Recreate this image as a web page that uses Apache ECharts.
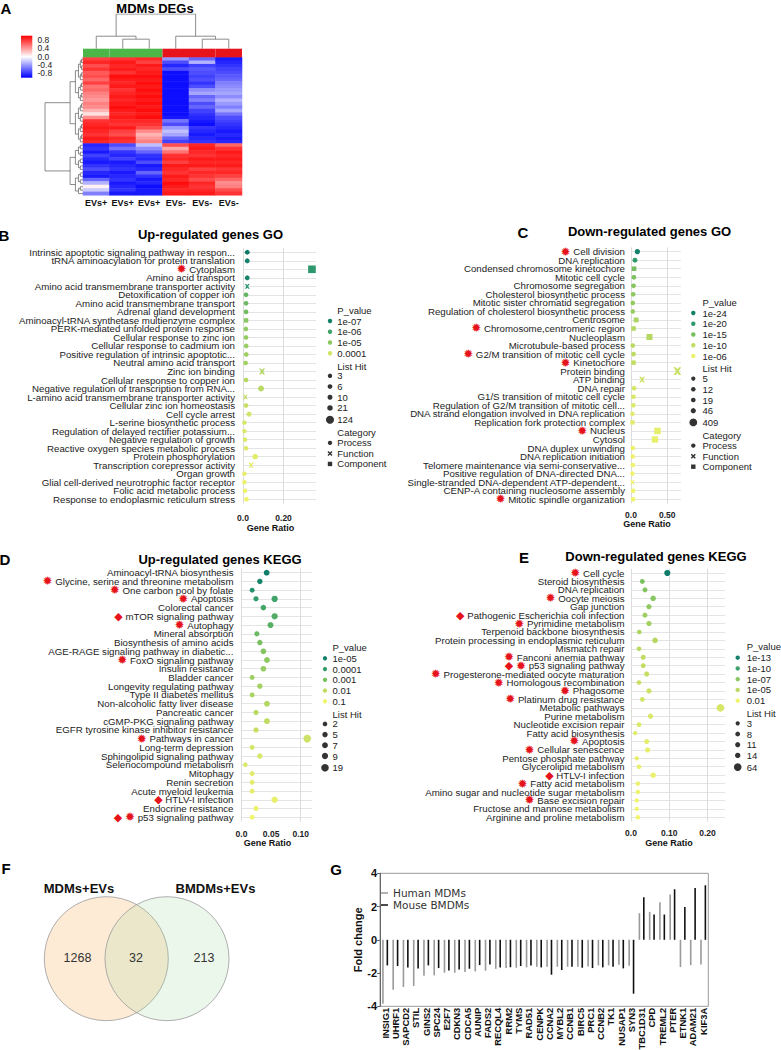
<!DOCTYPE html>
<html><head><meta charset="utf-8">
<script src="https://cdn.jsdelivr.net/npm/echarts@6/dist/echarts.min.js"></script>
<style>html,body{margin:0;padding:0;background:#fff}#c{width:781px;height:1050px}</style>
</head><body><div id="c"></div>
<script>
// ===== Panel A: heatmap data (40 gene rows x 6 samples) =====
const heatColLabels = ['EVs+','EVs+','EVs+','EVs-','EVs-','EVs-'];
const heatGroups = ['EVs+','EVs+','EVs+','EVs-','EVs-','EVs-'];
const heatS1 = [0.75,0.85,0.7,0.8,0.65,0.7,0.6,0.75,0.55,0.6,0.5,0.45,0.4,0.5,0.45,0.3,0.12,0.45,0.8,0.85,0.9,0.85,0.8,0.9,0.85,
  -0.85,-0.8,-0.9,-0.75,-0.85,-0.9,-0.8,-0.7,-0.85,-0.9,-0.6,-0.3,0.05,-0.2,-0.5];
const heatS2 = [0.8,0.9,0.85,0.9,0.8,0.95,0.9,0.85,0.9,0.8,0.85,0.9,0.85,0.9,0.95,0.9,0.85,0.9,0.85,0.8,0.9,0.75,0.7,0.85,0.8,
  -0.7,-0.55,-0.8,-0.85,-0.75,-0.9,-0.85,-0.8,-0.9,-0.85,-0.8,-0.9,-0.85,-0.8,-0.9];
const heatS3 = [0.85,0.75,0.9,0.85,0.9,0.95,0.9,0.95,0.9,0.95,0.9,0.95,0.9,0.95,0.9,0.95,0.9,0.95,0.85,0.8,0.7,0.45,0.3,0.4,0.5,
  -0.25,-0.45,-0.6,-0.8,-0.85,-0.7,-0.9,-0.85,-0.6,-0.8,-0.9,-0.85,-0.95,-0.9,-0.9];
const heatS4 = [-0.4,-0.7,-0.85,-0.7,-0.95,-0.95,-0.95,-0.95,-0.95,-0.95,-0.95,-0.95,-0.95,-0.95,-0.95,-0.95,-0.95,-0.9,-0.55,-0.7,-0.4,-0.25,-0.35,-0.6,-0.75,
  0.7,0.35,0.55,0.8,0.85,0.75,0.9,0.85,0.8,0.9,0.85,0.95,0.9,0.85,0.9];
const heatS5 = [-0.6,-0.3,-0.75,-0.65,-0.7,-0.75,-0.7,-0.8,-0.7,-0.45,-0.35,-0.6,-0.5,-0.7,-0.6,-0.75,-0.8,-0.85,-0.9,-0.95,-0.8,-0.85,-0.9,-0.85,-0.8,
  0.85,0.9,0.85,0.8,0.9,0.85,0.9,0.75,0.85,0.8,0.7,0.85,0.8,0.85,0.9];
const heatS6 = [-0.9,-0.85,-0.8,-0.75,-0.7,-0.65,-0.6,-0.5,-0.45,-0.4,-0.35,-0.45,-0.3,-0.4,-0.5,-0.35,-0.55,-0.7,-0.75,-0.8,-0.85,-0.9,-0.85,-0.9,-0.85,
  0.6,0.8,0.9,0.85,0.9,0.85,0.9,0.8,0.85,0.75,0.6,0.45,0.5,0.7,0.8];
const heatLegendTicks = [0.8,0.4,0.0,-0.4,-0.8];
const colDendroMerge = [[-2,-3],[-1,1],[-5,-6],[-4,3],[2,4]];
const colDendroHeight = [0.275,0.36,0.275,0.36,1.0];
const rowClusterSplit = 25;
const rowDendroHeights = [1.0,0.34,0.2,0.12,0.07,0.04,0.02];

// ===== Panel B: Up-regulated genes GO =====
const goUpNames = ['Intrinsic apoptotic signaling pathway in respon...','tRNA aminoacylation for protein translation','Cytoplasm','Amino acid transport','Amino acid transmembrane transporter activity','Detoxification of copper ion','Amino acid transmembrane transport','Adrenal gland development','Aminoacyl-tRNA synthetase multienzyme complex','PERK-mediated unfolded protein response','Cellular response to zinc ion','Cellular response to cadmium ion','Positive regulation of intrinsic apoptotic...','Neutral amino acid transport','Zinc ion binding','Cellular response to copper ion','Negative regulation of transcription from RNA...','L-amino acid transmembrane transporter activity','Cellular zinc ion homeostasis','Cell cycle arrest','L-serine biosynthetic process','Regulation of delayed rectifier potassium...','Negative regulation of growth','Reactive oxygen species metabolic process','Protein phosphorylation','Transcription corepressor activity','Organ growth','Glial cell-derived neurotrophic factor receptor','Folic acid metabolic process','Response to endoplasmic reticulum stress'];
const goUpRatio = [0.021,0.021,0.34,0.021,0.021,0.015,0.015,0.015,0.015,0.014,0.015,0.016,0.016,0.013,0.094,0.015,0.089,0.012,0.015,0.03,0.007,0.007,0.01,0.015,0.06,0.04,0.007,0.007,0.01,0.017];
const goUpLogP = [7.2,7.0,6.3,6.9,6.5,5.5,5.4,5.3,5.0,4.9,4.85,4.8,4.75,4.7,4.5,4.45,4.4,4.3,4.2,4.0,3.9,3.85,3.8,3.75,3.7,3.65,3.6,3.5,3.45,3.4];
const goUpHits = [8,8,124,8,8,5,5,5,5,5,5,5,5,4,34,5,32,4,5,11,3,3,4,5,22,15,3,3,4,6];
const goUpCat = ['P','P','C','P','F','P','P','P','C','P','P','P','P','P','F','P','P','F','P','P','P','P','P','P','P','F','P','P','P','P'];
const goUpStars = ['Cytoplasm'];
const goUpPLegend = [7,6,5,4];
const goUpPLabels = ['1e-07','1e-06','1e-05','0.0001'];
const goUpHitLegend = [3,6,10,21,124];

// ===== Panel C: Down-regulated genes GO =====
const goDownNames = ['Cell division','DNA replication','Condensed chromosome kinetochore','Mitotic cell cycle','Chromosome segregation','Cholesterol biosynthetic process','Mitotic sister chromatid segregation','Regulation of cholesterol biosynthetic process','Centrosome','Chromosome,centromeric region','Nucleoplasm','Microtubule-based process','G2/M transition of mitotic cell cycle','Kinetochore','Protein binding','ATP binding','DNA repair','G1/S transition of mitotic cell cycle','Regulation of G2/M transition of mitotic cell...','DNA strand elongation involved in DNA replication','Replication fork protection complex','Nucleus','Cytosol','DNA duplex unwinding','DNA replication initiation','Telomere maintenance via semi-conservative...','Positive regulation of DNA-directed DNA...','Single-stranded DNA-dependent ATP-dependent...','CENP-A containing nucleosome assembly','Mitotic spindle organization'];
const goDownRatio = [0.088,0.055,0.042,0.04,0.035,0.03,0.025,0.025,0.07,0.035,0.255,0.025,0.035,0.035,0.64,0.153,0.042,0.035,0.032,0.02,0.02,0.365,0.33,0.025,0.025,0.025,0.02,0.02,0.03,0.03];
const goDownLogP = [24,20,15,14.5,14,13.5,13,12.8,11.5,11,10.8,10.5,10.2,10,9.5,9,8,7.8,7.5,7.2,7,6.5,6.3,6,5.9,5.8,5.7,5.6,5.5,5.4];
const goDownHits = [56,35,27,26,22,19,16,16,45,22,163,16,22,22,409,98,27,22,20,14,14,234,211,16,16,16,14,14,19,19];
const goDownCat = ['P','P','C','P','P','P','P','P','C','C','C','P','P','C','F','F','P','P','P','P','C','C','C','P','P','P','P','F','P','P'];
const goDownStars = ['Cell division','Chromosome,centromeric region','G2/M transition of mitotic cell cycle','Kinetochore','Nucleus','Mitotic spindle organization'];
const goDownPLegend = [24,20,15,10,6];
const goDownPLabels = ['1e-24','1e-20','1e-15','1e-10','1e-06'];
const goDownHitLegend = [5,12,19,46,409];

// ===== Panel D: Up-regulated genes KEGG =====
const keggUpNames = ['Aminoacyl-tRNA biosynthesis','Glycine, serine and threonine metabolism','One carbon pool by folate','Apoptosis','Apoptosis','Colorectal cancer','mTOR signaling pathway','Autophagy','Mineral absorption','Biosynthesis of amino acids','AGE-RAGE signaling pathway in diabetic...','FoxO signaling pathway','Insulin resistance','Bladder cancer','Longevity regulating pathway','Type II diabetes mellitus','Non-alcoholic fatty liver disease','Pancreatic cancer','cGMP-PKG signaling pathway','EGFR tyrosine kinase inhibitor resistance','Pathways in cancer','Long-term depression','Sphingolipid signaling pathway','Selenocompound metabolism','Mitophagy','Renin secretion','Acute myeloid leukemia','HTLV-I infection','Endocrine resistance','p53 signaling pathway'];
const keggUpRatio = [0.0425,0.031,0.018,0.0245,0.056,0.037,0.056,0.049,0.026,0.031,0.037,0.043,0.037,0.018,0.031,0.018,0.043,0.0245,0.043,0.0245,0.111,0.018,0.031,0.0065,0.018,0.018,0.018,0.056,0.0245,0.018];
const keggUpLogP = [5.1,4.8,4.4,4.1,3.9,3.8,3.6,3.5,3.2,3.0,2.85,2.7,2.6,2.5,2.4,2.35,2.2,2.1,2.0,1.9,1.75,1.65,1.55,1.45,1.35,1.3,1.25,1.2,1.1,1.0];
const keggUpHits = [7,5,3,4,10,6,10,8,4,5,6,7,6,3,5,3,7,4,7,4,19,3,5,2,3,3,3,10,4,3];
const keggUpStars = ['Glycine, serine and threonine metabolism','One carbon pool by folate','Apoptosis','Autophagy','FoxO signaling pathway','Pathways in cancer','p53 signaling pathway'];
const keggUpDiamonds = ['mTOR signaling pathway','HTLV-I infection','p53 signaling pathway'];
const keggUpPLegend = [5,4,3,2,1];
const keggUpPLabels = ['1e-05','0.0001','0.001','0.01','0.1'];
const keggUpHitLegend = [2,5,7,9,19];

// ===== Panel E: Down-regulated genes KEGG =====
const keggDownNames = ['Cell cycle','Steroid biosynthesis','DNA replication','Oocyte meiosis','Gap junction','Pathogenic Escherichia coli infection','Pyrimidine metabolism','Terpenoid backbone biosynthesis','Protein processing in endoplasmic reticulum','Mismatch repair','Fanconi anemia pathway','p53 signaling pathway','Progesterone-mediated oocyte maturation','Homologous recombination','Phagosome','Platinum drug resistance','Metabolic pathways','Purine metabolism','Nucleotide excision repair','Fatty acid biosynthesis','Apoptosis','Cellular senescence','Pentose phosphate pathway','Glycerolipid metabolism','HTLV-I infection','Fatty acid metabolism','Amino sugar and nucleotide sugar metabolism','Base excision repair','Fructose and mannose metabolism','Arginine and proline metabolism'];
const keggDownRatio = [0.095,0.0296,0.0366,0.058,0.047,0.0366,0.047,0.0217,0.063,0.021,0.032,0.032,0.041,0.021,0.047,0.0296,0.234,0.051,0.021,0.011,0.041,0.0435,0.015,0.021,0.058,0.018,0.018,0.015,0.015,0.018];
const keggDownLogP = [13.3,7.5,7.2,7.0,6.6,6.2,6.0,5.5,5.2,5.0,4.8,4.7,4.5,4.3,4.1,3.9,3.6,3.4,3.2,3.0,2.8,2.7,2.6,2.5,2.4,2.3,2.2,2.1,2.0,1.95];
const keggDownHits = [26,8,10,16,13,10,13,6,17,6,9,9,11,6,13,8,64,14,6,3,11,12,4,6,16,5,5,4,4,5];
const keggDownStars = ['Cell cycle','Oocyte meiosis','Pyrimidine metabolism','Fanconi anemia pathway','p53 signaling pathway','Progesterone-mediated oocyte maturation','Homologous recombination','Phagosome','Platinum drug resistance','Apoptosis','Cellular senescence','Fatty acid metabolism','Base excision repair'];
const keggDownDiamonds = ['Pathogenic Escherichia coli infection','p53 signaling pathway','HTLV-I infection'];
const keggDownPLegend = [13,10,7,5,2];
const keggDownPLabels = ['1e-13','1e-10','1e-07','1e-05','0.01'];
const keggDownHitLegend = [3,8,11,14,64];

// ===== Panel F: Venn =====
const vennSets = ['MDMs+EVs','BMDMs+EVs'];
const vennCounts = [1268, 32, 213];

// ===== Panel G: fold change =====
const gGenes = ['INSIG1','UHRF1','SAPCD2','STIL','GINS2','SPC24','E2F7','CDKN3','CDCA5','AUNIP','FADS2','RECQL4','RRM2','TYMS','RAD51','CENPK','CCNA2','MYBL2','CCNB1','BIRC5','PRC1','CCNB2','TK1','NUSAP1','SYN3','TBC1D31','CPD','TREML2','PTER','ETNK1','ADAM21','KIF3A'];
const gHuman = [-3.84,-3.0,-2.84,-2.78,-2.16,-2.14,-1.98,-1.98,-1.94,-1.9,-1.86,-1.75,-1.7,-1.68,-1.66,-1.62,-1.62,-1.62,-1.62,-1.62,-1.6,-1.54,-1.54,-1.5,-1.56,1.6,1.68,2.26,2.72,-1.64,-1.52,-1.48];
const gMouse = [-1.54,-1.58,-1.66,-1.72,-1.54,-1.7,-1.84,-1.78,-1.74,-1.52,-1.48,-1.67,-1.65,-1.58,-1.54,-1.66,-2.1,-1.82,-1.62,-1.68,-1.7,-1.66,-1.62,-1.72,-3.24,2.56,1.52,1.52,3.04,1.98,3.12,3.28];

// ================= helpers =================
const FONT = 'Liberation Sans';
const uniq = a => a.filter((v,i)=>a.indexOf(v)===i);
const crossPath = 'path://M0,0L3,0L5,2.6L7,0L10,0L6.6,5L10,10L7,10L5,7.4L3,10L0,10L3.4,5Z';
const shapeOf = c => c==='C' ? 'rect' : (c==='F' ? crossPath : 'circle');
const pStops = [[0,[246,246,112]],[0.25,[194,221,98]],[0.5,[118,191,96]],[0.75,[47,154,108]],[1,[12,122,106]]];
function pColor(lp, lo, hi){
  let t=(lp-lo)/(hi-lo); t=Math.max(0,Math.min(1,t));
  for(let i=1;i<pStops.length;i++){
    if(t<=pStops[i][0]+1e-9){
      const a=pStops[i-1], b=pStops[i], f=(t-a[0])/(b[0]-a[0]);
      const c=a[1].map((v,k)=>Math.round(v+(b[1][k]-v)*f));
      return 'rgb('+c.join(',')+')';
    }
  }
  return 'rgb(12,122,106)';
}
const sizeB = h => 3.8+0.38*Math.sqrt(h);
const sizeC = h => 3.8+0.2*Math.sqrt(h);
const sizeD = h => 3.2+1.0*Math.sqrt(h);
const sizeE = h => 3.3+0.55*Math.sqrt(h);
const ratioFmt = v => v===0 ? '0.0' : v.toFixed(2);

function termAxis(gi, names, stars, diamonds, margin){
  const u = uniq(names);
  return {gridIndex:gi, type:'value', min:-0.5, max:u.length-0.5, minInterval:1, maxInterval:1, inverse:true,
    axisLine:{show:false}, axisTick:{show:false},
    splitLine:{show:true, showMinLine:false, showMaxLine:false, lineStyle:{color:'#e4e4e4', width:1}},
    axisLabel:{margin, fontSize:9.7, lineHeight:8.2, color:'#222', fontFamily:FONT, showMinLabel:false, showMaxLabel:false, hideOverlap:false,
      formatter: v => {
        if (Math.abs(v-Math.round(v))>1e-6) return '';
        const n=u[Math.round(v)]; if(n===undefined) return '';
        let p=''; if(diamonds.includes(n)) p+='{d|◆} '; if(stars.includes(n)) p+='{s|✹} ';
        return p+n;
      },
      rich:{s:{color:'#e5131b', fontSize:12, lineHeight:8.2, fontFamily:'DejaVu Sans'},
            d:{color:'#e5131b', fontSize:11, lineHeight:8.2, fontFamily:'DejaVu Sans'}}}};
}
function ratioAxis(gi, max, interval, margin, nameGap, splitColors){
  return {gridIndex:gi, type:'value', min:0, max, interval, position:'bottom',
    axisLine:{show:false}, axisTick:{show:false},
    axisLabel:{formatter:ratioFmt, fontWeight:'bold', fontSize:8.5, color:'#222', fontFamily:FONT, margin, showMaxLabel:false},
    splitLine:{show:true, showMaxLine:false, lineStyle:{color:splitColors, width:1}},
    name:'Gene Ratio', nameLocation:'middle', nameGap,
    nameTextStyle:{fontWeight:'bold', fontSize:9, color:'#111', fontFamily:FONT, padding:[0,18,0,0]}};
}
function dotSeries(gi, names, ratio, logp, hits, cats, lo, hi, sizeFn){
  const u = uniq(names);
  return {type:'scatter', xAxisIndex:gi, yAxisIndex:gi, z:3, silent:true, clip:false,
    data: names.map((n,i)=>({value:[ratio[i], u.indexOf(n)], symbol: shapeOf(cats?cats[i]:'P'),
      symbolSize: sizeFn(hits[i])*(cats&&cats[i]==='C'?0.95:1), itemStyle:{color:pColor(logp[i],lo,hi), opacity:1}}))};
}
function T(s,x,y,opt){
  opt=opt||{};
  const size=opt.size||9.5;
  return {type:'text', silent:true, z:10, style:{text:s, x, y, fill:opt.fill||'#222',
    font:(opt.weight||'normal')+' '+size+'px "'+(opt.family||FONT)+'"', lineHeight:opt.lh||Math.round(size*1.05),
    align:opt.align||'left', verticalAlign:'middle'}};
}
function dotLegend(dx, tx, y0, pVals, pLabels, lo, hi, hitVals, sizeFn, withCat){
  const els=[]; let y=y0;
  const LT=(s,x,yy)=>T(s,x,yy,{lh:9.5});
  els.push(LT('P_value', tx, y)); y+=11;
  pVals.forEach((lp,i)=>{
    els.push({type:'circle', silent:true, z:10, shape:{cx:dx, cy:y, r:2.2}, style:{fill:pColor(lp,lo,hi)}});
    els.push(LT(pLabels[i], tx, y)); if(i<pVals.length-1) y+=10.75;
  });
  y+=12.8; els.push(LT('List Hit', tx, y)); y+=9.8;
  hitVals.forEach((h,i)=>{
    const last = i===hitVals.length-1; if(last) y+=1;
    els.push({type:'circle', silent:true, z:10, shape:{cx:dx, cy:y, r:sizeFn(h)/2}, style:{fill:'#333'}});
    els.push(LT(String(h), tx, y)); if(!last) y+=10.7;
  });
  if(withCat){
    y+=13.2; els.push(LT('Category', tx, y)); y+=10;
    els.push({type:'circle', silent:true, z:10, shape:{cx:dx, cy:y, r:2.2}, style:{fill:'#333'}});
    els.push(LT('Process', tx, y)); y+=10.6;
    els.push({type:'line', silent:true, z:10, shape:{x1:dx-2,y1:y-2,x2:dx+2,y2:y+2}, style:{stroke:'#333', lineWidth:1.5}});
    els.push({type:'line', silent:true, z:10, shape:{x1:dx-2,y1:y+2,x2:dx+2,y2:y-2}, style:{stroke:'#333', lineWidth:1.5}});
    els.push(LT('Function', tx, y)); y+=10.5;
    els.push({type:'rect', silent:true, z:10, shape:{x:dx-2.2,y:y-2.2,width:4.4,height:4.4}, style:{fill:'#333'}});
    els.push(LT('Component', tx, y));
  }
  return els;
}

// ---- heatmap series data ----
const heatCols = [heatS1,heatS2,heatS3,heatS4,heatS5,heatS6];
const nRows = heatS1.length;
const heatData = [];
heatCols.forEach((col,c)=>col.forEach((v,r)=>heatData.push([c,r,v])));
const heatColIds = heatColLabels.map((_,i)=>'s'+i);
const heatRowIds = heatS1.map((_,i)=>'g'+i);

// ---- column dendrogram ----
const colLines = []; const colNodes = [];
const nodeOf = k => k<0 ? {x:-k-1, h:0} : colNodes[k-1];
colDendroMerge.forEach((m,k)=>{
  const a=nodeOf(m[0]), b=nodeOf(m[1]), H=colDendroHeight[k];
  colLines.push({coords:[[a.x,a.h],[a.x,H],[b.x,H],[b.x,b.h]]});
  colNodes.push({x:(a.x+b.x)/2, h:H});
});
// ---- row dendrogram ----
const rowLines = [];
function buildRow(lo, hi, depth){
  if(lo===hi) return {y:lo, h:0};
  const mid = depth===0 ? rowClusterSplit-1 : Math.floor((lo+hi)/2);
  const a=buildRow(lo,mid,depth+1), b=buildRow(mid+1,hi,depth+1);
  const H=rowDendroHeights[Math.min(depth,rowDendroHeights.length-1)];
  rowLines.push({coords:[[a.h,a.y],[H,a.y],[H,b.y],[b.h,b.y]]});
  return {y:(a.y+b.y)/2, h:H};
}
buildRow(0, nRows-1, 0);

// ---- graphic ----
const g = [];
[['A',6,8],['B',4,235],['C',523,232],['D',5,559],['E',524,557],['F',6,868],['G',336,869]].forEach(l=>g.push(T(l[0],l[1],l[2],{weight:'bold',size:15,align:'center',fill:'#000'})));
g.push(T('MDMs DEGs',155,8.5,{weight:'bold',size:13,align:'center',fill:'#000'}));
g.push(T('Up-regulated genes GO',210.5,234,{weight:'bold',size:13,align:'center',fill:'#000'}));
g.push(T('Down-regulated genes GO',649.5,231.5,{weight:'bold',size:13,align:'center',fill:'#000'}));
g.push(T('Up-regulated genes KEGG',220,559,{weight:'bold',size:13,align:'center',fill:'#000'}));
g.push(T('Down-regulated genes KEGG',656,556.7,{weight:'bold',size:13,align:'center',fill:'#000'}));
// colour bar
g.push({type:'rect', silent:true, shape:{x:21,y:35.7,width:11.3,height:42},
  style:{fill:{type:'linear',x:0,y:0,x2:0,y2:1,colorStops:[{offset:0,color:'#ff0000'},{offset:0.5,color:'#ffffff'},{offset:1,color:'#0000ff'}]}}});
heatLegendTicks.forEach(v=>g.push(T(v.toFixed(1),37.5,56.7-v*20.9,{size:8.5,fill:'#222',lh:7.5})));
// dot plot legends
g.push(...dotLegend(330,337.3,310,goUpPLegend,goUpPLabels,3.3,7.2,goUpHitLegend,sizeB,true));
g.push(...dotLegend(693.3,702.5,302,goDownPLegend,goDownPLabels,5,25,goDownHitLegend,sizeC,true));
g.push(...dotLegend(325,332.5,647.3,keggUpPLegend,keggUpPLabels,0.9,5.2,keggUpHitLegend,sizeD,false));
g.push(...dotLegend(737.7,746.7,646.7,keggDownPLegend,keggDownPLabels,1.8,13.5,keggDownHitLegend,sizeE,false));
// Venn
g.push({type:'circle', silent:true, shape:{cx:106.3,cy:958.7,r:62}, style:{fill:'rgba(248,190,120,0.3)', stroke:'#9a9a9a', lineWidth:0.8}});
g.push({type:'circle', silent:true, shape:{cx:167,cy:958.7,r:62}, style:{fill:'rgba(160,215,160,0.2)', stroke:'#9a9a9a', lineWidth:0.8}});
g.push(T(vennSets[0],79,888,{weight:'bold',size:13,align:'center',fill:'#111'}));
g.push(T(vennSets[1],215.5,888,{weight:'bold',size:13,align:'center',fill:'#111'}));
g.push(T(String(vennCounts[0]),77.5,958,{size:12.5,align:'center',fill:'#333'}));
g.push(T(String(vennCounts[1]),136,958,{size:12.5,align:'center',fill:'#333'}));
g.push(T(String(vennCounts[2]),204,958,{size:12.5,align:'center',fill:'#333'}));

const grids = [
  {left:83, top:57.3, width:159, height:138},
  {left:83, top:48.7, width:159, height:8.6},
  {left:83, top:14, width:159, height:34.7},
  {left:45, top:57.3, width:38, height:138},
  {left:243, top:248, width:73, height:255.5},
  {left:631, top:247.4, width:50, height:256.1},
  {left:241.5, top:568.3, width:70.2, height:253.3},
  {left:631, top:568.8, width:94, height:252.7},
  {left:380, top:873.3, width:328.3, height:133, show:true, borderColor:'#999', borderWidth:1, backgroundColor:'transparent'}
].map(o=>Object.assign({containLabel:false, outerBoundsMode:'none'}, o));

const option = {
  animation:false,
  backgroundColor:'#fff',
  textStyle:{fontFamily:FONT},
  grid: grids,
  xAxis: [
    {gridIndex:0, type:'category', data:heatColIds, axisLine:{show:false}, axisTick:{show:false}, splitLine:{show:false},
      axisLabel:{interval:0, formatter:(v,i)=>heatColLabels[i], fontWeight:'bold', fontSize:9, color:'#111', margin:3}},
    {gridIndex:1, type:'category', data:heatColIds, show:false},
    {gridIndex:2, type:'value', min:-0.5, max:5.5, show:false},
    {gridIndex:3, type:'value', min:0, max:1, inverse:true, show:false},
    ratioAxis(4, 0.36, 0.2, 10, 19.5, '#dcdcdc'),
    ratioAxis(5, 0.69, 0.5, 6.5, 15.3, '#dcdcdc'),
    ratioAxis(6, 0.1186, 0.05, 7.4, 16.6, ['#dcdcdc','rgba(0,0,0,0)']),
    ratioAxis(7, 0.246, 0.1, 7.2, 17.3, '#dcdcdc'),
    {gridIndex:8, type:'category', data:gGenes, axisLine:{show:false}, axisTick:{show:false}, splitLine:{show:false},
      axisLabel:{rotate:90, interval:0, fontWeight:'bold', fontSize:9.4, lineHeight:9, color:'#111', margin:1.5, hideOverlap:false}}
  ],
  yAxis: [
    {gridIndex:0, type:'category', data:heatRowIds, inverse:true, show:false},
    {gridIndex:1, type:'value', min:0, max:1, show:false},
    {gridIndex:2, type:'value', min:0, max:1, show:false},
    {gridIndex:3, type:'value', min:-0.5, max:nRows-0.5, inverse:true, show:false},
    termAxis(4, goUpNames, goUpStars, [], 8),
    termAxis(5, goDownNames, goDownStars, [], 6),
    termAxis(6, keggUpNames, keggUpStars, keggUpDiamonds, 8),
    termAxis(7, keggDownNames, keggDownStars, keggDownDiamonds, 6.5),
    {gridIndex:8, type:'value', min:-4, max:4, interval:2,
      axisLine:{show:true, lineStyle:{color:'#666', width:1}}, axisTick:{show:true, length:3, lineStyle:{color:'#666'}},
      splitLine:{show:false}, axisLabel:{fontWeight:'bold', fontSize:11, color:'#111', margin:3},
      name:'Fold change', nameLocation:'middle', nameRotate:90, nameGap:15,
      nameTextStyle:{fontWeight:'bold', fontSize:11, color:'#111'}}
  ],
  visualMap: [{type:'continuous', show:false, seriesIndex:0, min:-1, max:1, dimension:2,
    inRange:{color:['#0000ff','#ffffff','#ff0000']}}],
  legend: [{data:['Human MDMs','Mouse BMDMs'], orient:'vertical', left:381, top:887.5, itemWidth:7, itemHeight:1.5,
    itemGap:1, icon:'rect', selectedMode:false, padding:0,
    textStyle:{fontFamily:'DejaVu Sans', fontSize:10.5, color:'#333', lineHeight:11}}],
  series: [
    {type:'heatmap', xAxisIndex:0, yAxisIndex:0, data:heatData, silent:true, itemStyle:{borderWidth:0}},
    {type:'bar', xAxisIndex:1, yAxisIndex:1, barWidth:'100%', silent:true,
      data: heatGroups.map(gr=>({value:1, itemStyle:{color: gr==='EVs+' ? '#4cb748' : '#e8141b'}}))},
    {type:'lines', coordinateSystem:'cartesian2d', xAxisIndex:2, yAxisIndex:2, polyline:true, silent:true,
      data:colLines, lineStyle:{color:'#8c8c8c', width:1, opacity:1}},
    {type:'lines', coordinateSystem:'cartesian2d', xAxisIndex:3, yAxisIndex:3, polyline:true, silent:true,
      data:rowLines, lineStyle:{color:'#5a5a5a', width:0.7, opacity:1}},
    dotSeries(4, goUpNames, goUpRatio, goUpLogP, goUpHits, goUpCat, 3.3, 7.2, sizeB),
    dotSeries(5, goDownNames, goDownRatio, goDownLogP, goDownHits, goDownCat, 5, 25, sizeC),
    dotSeries(6, keggUpNames, keggUpRatio, keggUpLogP, keggUpHits, null, 0.9, 5.2, sizeD),
    dotSeries(7, keggDownNames, keggDownRatio, keggDownLogP, keggDownHits, null, 1.8, 13.5, sizeE),
    {name:'Human MDMs', type:'bar', xAxisIndex:8, yAxisIndex:8, data:gHuman, barWidth:1.6, barGap:'175%',
      itemStyle:{color:'#9a9a9a'}, silent:true},
    {name:'Mouse BMDMs', type:'bar', xAxisIndex:8, yAxisIndex:8, data:gMouse, barWidth:1.6, barGap:'175%',
      itemStyle:{color:'#111'}, silent:true}
  ],
  graphic: {elements: g}
};
const chart = echarts.init(document.getElementById('c'), null, {renderer:'svg'});
chart.setOption(option);
</script>
</body></html>
